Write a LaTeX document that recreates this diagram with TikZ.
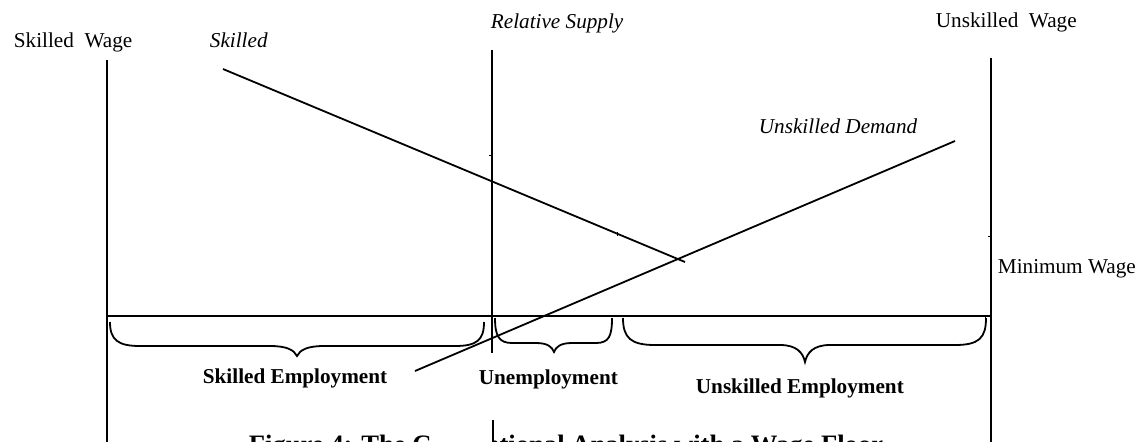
\documentclass[tikz,border=0pt]{standalone}
\usepackage{fontspec}
\setmainfont{Liberation Serif}
\tikzset{
  lbl/.style={inner sep=0pt,font=\fontsize{10.6}{12.7}\selectfont},
  tick/.style={line width=0.4pt},
}

\begin{document}
\begin{tikzpicture}[x=0.5pt,y=-0.5pt,line width=0.9pt]
        \useasboundingbox (0,0) rectangle (1141,441);
        % axes
        \draw (107,60) -- (107,445);
        \draw (492,50) -- (492,353);
        \draw (991,58) -- (991,445);
        \draw (107,316) -- (991,316);
        % demand lines
        \draw (223,69) -- (685,262);
        \draw (415,371) -- (955,141);
        \draw [tick] (489,155) -- (492,155);
        \draw [tick] (617,232) -- (617,236);
        \draw [tick] (988,236) -- (990,236);
        \draw [tick] (985,316) -- (985,320);
        % braces
        \draw (110,322) .. controls (110,340) and (118,346) .. (140,346) -- (270,346) .. controls (287,346) and (294,350) .. (297,356) .. controls (300,350) and (307,346) .. (324,346) -- (455,346) .. controls (477,346) and (484,340) .. (484,322);
        \draw (495,318) .. controls (495,336) and (499,343) .. (512,343) -- (536,343) .. controls (548,343) and (552,347) .. (554,352) .. controls (556,347) and (560,343) .. (572,343) -- (596,343) .. controls (609,343) and (612,336) .. (612,318);
        \draw (623,318) .. controls (623,338) and (631,345) .. (655,345) -- (780,345) .. controls (797,345) and (803,353) .. (805,362) .. controls (807,353) and (813,345) .. (830,345) -- (955,345) .. controls (979,345) and (986,338) .. (986,318);
        % caption, partly hidden
        \node (cap) [anchor=base west,inner sep=0pt,font=\fontsize{13.3}{16}\selectfont\bfseries] at (248,453) {Figure 4: The Conventional Analysis with a Wage Floor};
        \fill [white] (430,395) rectangle (493,445);
        \draw (493,420) -- (493,445);
        % labels
        \node (sw) [lbl,anchor=base west] at (13,47) {Skilled~~Wage};
        \node (sk) [lbl,anchor=base west] at (209,47) {\itshape Skilled};
        \node (rs) [lbl,anchor=base west] at (490,28) {\itshape Relative Supply};
        \node (uw) [lbl,anchor=base west] at (935,27) {Unskilled~~Wage};
        \node (ud) [lbl,anchor=base west] at (758,133) {\itshape Unskilled Demand};
        \node (mw) [lbl,anchor=base west] at (997,273) {Minimum Wage};
        \node (se) [lbl,anchor=base west] at (202,383) {\bfseries Skilled Employment};
        \node (un) [lbl,anchor=base west] at (478,384) {\bfseries Unemployment};
        \node (ue) [lbl,anchor=base west] at (695,393) {\bfseries Unskilled Employment};
\end{tikzpicture}
\end{document}
